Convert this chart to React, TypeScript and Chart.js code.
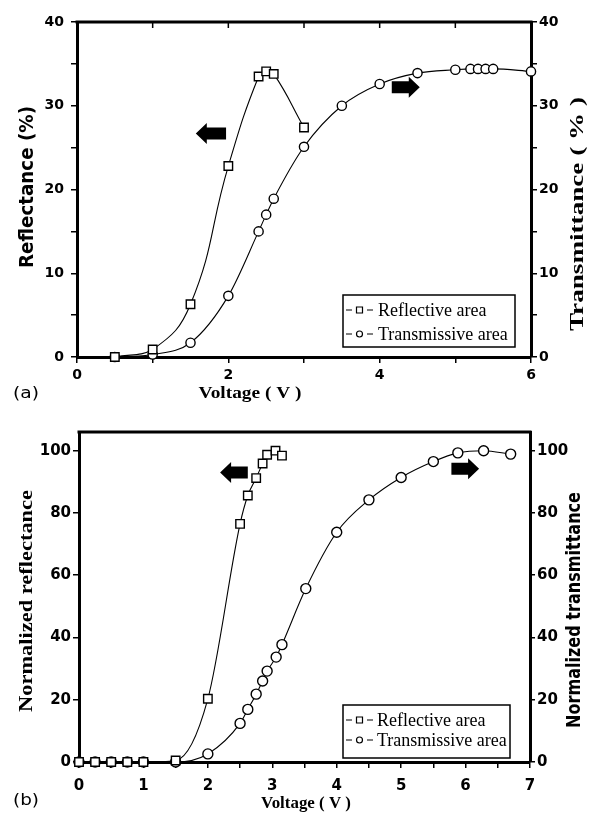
import { useEffect, useRef } from 'react';
import { Chart, registerables } from 'chart.js';
Chart.register(...registerables);

// ---------- (a) absolute reflectance / transmittance ----------
const voltageReflA = [0.5, 1.0, 1.5, 2.0, 2.4, 2.5, 2.6, 3.0];
const reflectanceA = [0, 0.9, 6.3, 22.8, 33.5, 34.1, 33.8, 27.4];
const voltageTransA = [0.5, 1.0, 1.5, 2.0, 2.4, 2.5, 2.6, 3.0, 3.5, 4.0, 4.5, 5.0, 5.2, 5.3, 5.4, 5.5, 6.0];
const transmittanceA = [0, 0.3, 1.7, 7.3, 15.0, 17.0, 18.9, 25.1, 30.0, 32.6, 33.9, 34.3, 34.4, 34.4, 34.4, 34.4, 34.1];

// ---------- (b) normalized ----------
const voltageReflB = [0, 0.25, 0.5, 0.75, 1.0, 1.5, 2.0, 2.5, 2.62, 2.75, 2.85, 2.92, 3.05, 3.15];
const reflectanceB = [0, 0, 0, 0, 0, 0.5, 20.3, 76.5, 85.6, 91.2, 95.9, 98.7, 100, 98.4];
const voltageTransB = [0, 0.25, 0.5, 0.75, 1.0, 1.5, 2.0, 2.5, 2.62, 2.75, 2.85, 2.92, 3.06, 3.15, 3.52, 4.0, 4.5, 5.0, 5.5, 5.88, 6.28, 6.7];
const transmittanceB = [0, 0, 0, 0, 0, 0, 2.6, 12.4, 16.9, 21.8, 26, 29.2, 33.7, 37.7, 55.7, 73.8, 84.2, 91.4, 96.5, 99.3, 100, 98.9];

const legendLabels = ['Reflective area', 'Transmissive area'];

const SANS = '"DejaVu Sans", sans-serif';
const SERIF = '"Liberation Serif", "Times New Roman", serif';

function textAlong(ctx: CanvasRenderingContext2D, text: string, x: number, y: number, font: string, rot: number, length?: number) {
  ctx.save();
  ctx.font = font;
  ctx.translate(x, y);
  ctx.rotate(rot);
  const w = ctx.measureText(text).width;
  if (length) ctx.scale(length / w, 1);
  ctx.textAlign = 'center';
  ctx.textBaseline = 'middle';
  ctx.fillStyle = '#000';
  ctx.fillText(text, 0, 0);
  ctx.restore();
}

type Arrow = { x0: number; x1: number; y: number; dir: 'left' | 'right'; axis: string };
type Title = { text: string; x: number; y: number; font: string; rot: number; length?: number };
type DecorCfg = {
  topTicks: number[];
  arrows: Arrow[];
  legend: { left: number; top: number; width: number; height: number; rows: number[]; textX: number };
  titles: Title[];
};

function makeDecor(cfg: DecorCfg) {
  return {
    id: 'decor',
    afterDraw(chart: any) {
      const { ctx, chartArea: ca, scales } = chart;
      const xs = scales.x;
      ctx.save();
      ctx.strokeStyle = '#000';
      ctx.fillStyle = '#000';
      // top frame
      ctx.lineWidth = 3;
      ctx.beginPath();
      ctx.moveTo(ca.left - 1.5, ca.top);
      ctx.lineTo(ca.right + 1.5, ca.top);
      ctx.stroke();
      // inward ticks on top frame
      ctx.lineWidth = 1.5;
      for (const v of cfg.topTicks) {
        const px = xs.getPixelForValue(v);
        ctx.beginPath();
        ctx.moveTo(px, ca.top);
        ctx.lineTo(px, ca.top + 6);
        ctx.stroke();
      }
      // arrows
      for (const a of cfg.arrows) {
        const ys = scales[a.axis];
        const xa = xs.getPixelForValue(a.x0);
        const xb = xs.getPixelForValue(a.x1);
        const yc = ys.getPixelForValue(a.y);
        const shaft = 6, head = 10.5, headLen = 11;
        ctx.beginPath();
        if (a.dir === 'left') {
          ctx.moveTo(xa, yc);
          ctx.lineTo(xa + headLen, yc - head);
          ctx.lineTo(xa + headLen, yc - shaft);
          ctx.lineTo(xb, yc - shaft);
          ctx.lineTo(xb, yc + shaft);
          ctx.lineTo(xa + headLen, yc + shaft);
          ctx.lineTo(xa + headLen, yc + head);
        } else {
          ctx.moveTo(xb, yc);
          ctx.lineTo(xb - headLen, yc - head);
          ctx.lineTo(xb - headLen, yc - shaft);
          ctx.lineTo(xa, yc - shaft);
          ctx.lineTo(xa, yc + shaft);
          ctx.lineTo(xb - headLen, yc + shaft);
          ctx.lineTo(xb - headLen, yc + head);
        }
        ctx.closePath();
        ctx.fill();
      }
      // legend box
      const L = cfg.legend;
      ctx.fillStyle = '#fff';
      ctx.fillRect(L.left, L.top, L.width, L.height);
      ctx.lineWidth = 1.5;
      ctx.strokeRect(L.left, L.top, L.width, L.height);
      chart.data.datasets.forEach((ds: any, i: number) => {
        const base = L.top + L.rows[i];
        const sy = base - 6;
        const sx = L.left + 3;
        ctx.strokeStyle = '#000';
        ctx.lineWidth = 1;
        ctx.beginPath();
        ctx.moveTo(sx, sy); ctx.lineTo(sx + 6, sy);
        ctx.moveTo(sx + 21, sy); ctx.lineTo(sx + 27, sy);
        ctx.stroke();
        ctx.fillStyle = '#fff';
        ctx.lineWidth = 1.2;
        ctx.beginPath();
        if (ds.pointStyle === 'rect') {
          ctx.rect(sx + 10.5, sy - 3, 6, 6);
        } else {
          ctx.arc(sx + 13.5, sy, 3, 0, Math.PI * 2);
        }
        ctx.fill();
        ctx.stroke();
        ctx.fillStyle = '#000';
        ctx.font = '18px ' + SERIF;
        ctx.textAlign = 'left';
        ctx.textBaseline = 'alphabetic';
        ctx.fillText(ds.label, L.left + L.textX, base);
      });
      // titles
      for (const t of cfg.titles) textAlong(ctx, t.text, t.x, t.y, t.font, t.rot, t.length);
      ctx.restore();
    },
  };
}

function pts(xs: number[], ys: number[]) {
  return xs.map((x, i) => ({ x, y: ys[i] }));
}

const lineCommon = {
  borderColor: '#000',
  borderWidth: 1.1,
  pointBorderColor: '#000',
  pointBackgroundColor: '#fff',
  pointBorderWidth: 1.4,
  cubicInterpolationMode: 'monotone' as const,
  tension: 0.4,
  clip: false as const,
};

function axisStyle(fontSize: number, pad: number, tickLen: number) {
  return {
    ticks: {
      autoSkip: false,
      maxRotation: 0,
      color: '#000',
      padding: pad,
      font: { family: SANS, weight: 'bold' as const, size: fontSize },
    },
    grid: { drawOnChartArea: false, tickLength: tickLen, color: '#000', lineWidth: 1.5 },
    border: { width: 3, color: '#000' },
  };
}

function topConfig(): any {
  const xa = axisStyle(14, 4, 6);
  const ya = axisStyle(14, 7, 6);
  const y2a = axisStyle(14, 2, 6);
  return {
    type: 'line',
    data: {
      datasets: [
        { ...lineCommon, cubicInterpolationMode: 'default', tension: 0.45, label: legendLabels[0], data: pts(voltageReflA, reflectanceA), yAxisID: 'y', pointStyle: 'rect', pointRadius: 6 },
        { ...lineCommon, label: legendLabels[1], data: pts(voltageTransA, transmittanceA), yAxisID: 'y2', pointStyle: 'circle', pointRadius: 4.6 },
      ],
    },
    options: {
      responsive: false,
      animation: false,
      events: [],
      layout: { padding: { top: 22, left: 0, right: 0, bottom: 0 } },
      plugins: { legend: { display: false }, tooltip: { enabled: false } },
      scales: {
        x: {
          type: 'linear', min: 0, max: 6, ...xa,
          ticks: { ...xa.ticks, stepSize: 1, callback: (v: number) => (v % 2 === 0 ? String(v) : '') },
          afterFit: (s: any) => { s.height = 48; },
        },
        y: {
          type: 'linear', position: 'left', min: 0, max: 40, ...ya,
          ticks: { ...ya.ticks, stepSize: 5, callback: (v: number) => (v % 10 === 0 ? String(v) : '') },
          afterFit: (s: any) => { s.width = 77; },
        },
        y2: {
          type: 'linear', position: 'right', min: 0, max: 40, ...y2a,
          ticks: { ...y2a.ticks, stepSize: 5, callback: (v: number) => (v % 10 === 0 ? String(v) : '') },
          afterFit: (s: any) => { s.width = 63; },
        },
      },
    },
    plugins: [
      makeDecor({
        topTicks: [1, 2, 3, 4, 5],
        arrows: [
          { x0: 1.57, x1: 1.97, y: 26.7, dir: 'left', axis: 'y' },
          { x0: 4.16, x1: 4.53, y: 32.2, dir: 'right', axis: 'y2' },
        ],
        legend: { left: 343, top: 295, width: 172, height: 52, rows: [21, 45], textX: 35 },
        titles: [
          { text: 'Reflectance (%)', x: 28, y: 187, font: 'bold 19px ' + SANS, rot: -Math.PI / 2, length: 162 },
          { text: 'Transmittance ( % )', x: 578, y: 214, font: 'bold 19px ' + SERIF, rot: -Math.PI / 2, length: 234 },
          { text: 'Voltage ( V )', x: 250, y: 394, font: 'bold 17px ' + SERIF, rot: 0, length: 103 },
          { text: '(a)', x: 26, y: 394, font: '16px ' + SANS, rot: 0, length: 26 },
        ],
      }),
    ],
  };
}

function bottomConfig(): any {
  const xa = axisStyle(15, 9, 6);
  const ya = axisStyle(15, 2, 6);
  const y2a = axisStyle(15, 2, 5);
  return {
    type: 'line',
    data: {
      datasets: [
        { ...lineCommon, label: legendLabels[0], data: pts(voltageReflB, reflectanceB), yAxisID: 'y', pointStyle: 'rect', pointRadius: 6 },
        { ...lineCommon, label: legendLabels[1], data: pts(voltageTransB, transmittanceB), yAxisID: 'y2', pointStyle: 'circle', pointRadius: 5 },
      ],
    },
    options: {
      responsive: false,
      animation: false,
      events: [],
      layout: { padding: { top: 27, left: 0, right: 0, bottom: 0 } },
      plugins: { legend: { display: false }, tooltip: { enabled: false } },
      scales: {
        x: {
          type: 'linear', min: 0, max: 7, ...xa,
          ticks: { ...xa.ticks, stepSize: 0.5, callback: (v: number) => (Number.isInteger(v) ? String(v) : '') },
          afterFit: (s: any) => { s.height = 51; },
        },
        y: {
          type: 'linear', position: 'left', min: 0, max: 106, ...ya,
          ticks: { ...ya.ticks, stepSize: 20 },
          afterBuildTicks: (s: any) => { s.ticks = s.ticks.filter((t: any) => t.value % 20 === 0); },
          afterFit: (s: any) => { s.width = 79; },
        },
        y2: {
          type: 'linear', position: 'right', min: 0, max: 106, ...y2a,
          ticks: { ...y2a.ticks, stepSize: 20 },
          afterBuildTicks: (s: any) => { s.ticks = s.ticks.filter((t: any) => t.value % 20 === 0); },
          afterFit: (s: any) => { s.width = 64; },
        },
      },
    },
    plugins: [
      makeDecor({
        topTicks: [],
        arrows: [
          { x0: 2.19, x1: 2.62, y: 93, dir: 'left', axis: 'y' },
          { x0: 5.78, x1: 6.21, y: 94.2, dir: 'right', axis: 'y2' },
        ],
        legend: { left: 343, top: 300, width: 167, height: 53, rows: [21, 41], textX: 34 },
        titles: [
          { text: 'Normalized reflectance', x: 27, y: 196, font: 'bold 19px ' + SERIF, rot: -Math.PI / 2, length: 222 },
          { text: 'Normalized transmittance', x: 575, y: 205, font: 'bold 19px ' + SANS, rot: -Math.PI / 2, length: 236 },
          { text: 'Voltage ( V )', x: 306, y: 399, font: 'bold 17px ' + SERIF, rot: 0, length: 90 },
          { text: '(b)', x: 26, y: 396, font: '16px ' + SANS, rot: 0, length: 26 },
        ],
      }),
    ],
  };
}

export default function App() {
  const topRef = useRef<HTMLCanvasElement>(null);
  const botRef = useRef<HTMLCanvasElement>(null);
  useEffect(() => {
    const c1 = new Chart(topRef.current!, topConfig());
    const c2 = new Chart(botRef.current!, bottomConfig());
    return () => { c1.destroy(); c2.destroy(); };
  }, []);
  return (
    <div style={{ position: 'absolute', left: 0, top: 0, width: 594, height: 813, background: '#fff' }}>
      <canvas ref={topRef} width={594} height={405} style={{ position: 'absolute', left: 0, top: 0, width: 594, height: 405 }} />
      <canvas ref={botRef} width={594} height={408} style={{ position: 'absolute', left: 0, top: 405, width: 594, height: 408 }} />
    </div>
  );
}
